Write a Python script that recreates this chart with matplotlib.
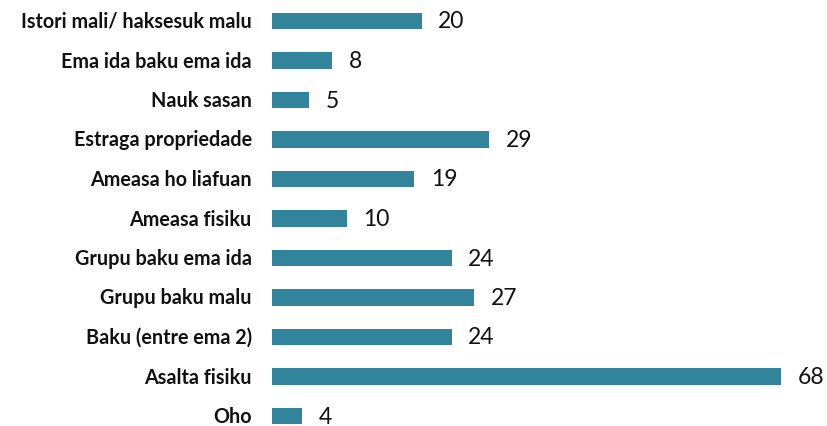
import matplotlib.pyplot as plt

categories = ['Istori mali/ haksesuk malu', 'Ema ida baku ema ida', 'Nauk sasan',
              'Estraga propriedade', 'Ameasa ho liafuan', 'Ameasa fisiku',
              'Grupu baku ema ida', 'Grupu baku malu', 'Baku (entre ema 2)',
              'Asalta fisiku', 'Oho']
values = [20, 8, 5, 29, 19, 10, 24, 27, 24, 68, 4]

plt.rcParams['font.family'] = ['Lato', 'DejaVu Sans']

fig = plt.figure(figsize=(8.27, 4.27), dpi=100)
ax = fig.add_axes([272 / 827, 0, 555 / 827, 1])

pos = list(range(len(categories)))
ax.barh(pos, values, height=0.43, color='#31849B')

# geometry picked so bar centres fall where the reference has them
ax.set_ylim((427 - 22) / 39.5, -22 / 39.5)
ax.set_xlim(0, 555 / 7.49)

for i, v in enumerate(values):
    ax.text(v + 2.2, i, str(v), va='center', ha='left', fontsize=16.5, color='#111111')

for i, c in enumerate(categories):
    ax.text(-2.7, i, c, va='center', ha='right', fontsize=14.2, fontweight='bold',
            color='#111111')

ax.set_xticks([])
ax.set_yticks([])
for s in ax.spines.values():
    s.set_visible(False)

fig.savefig('out.png', dpi=100)
